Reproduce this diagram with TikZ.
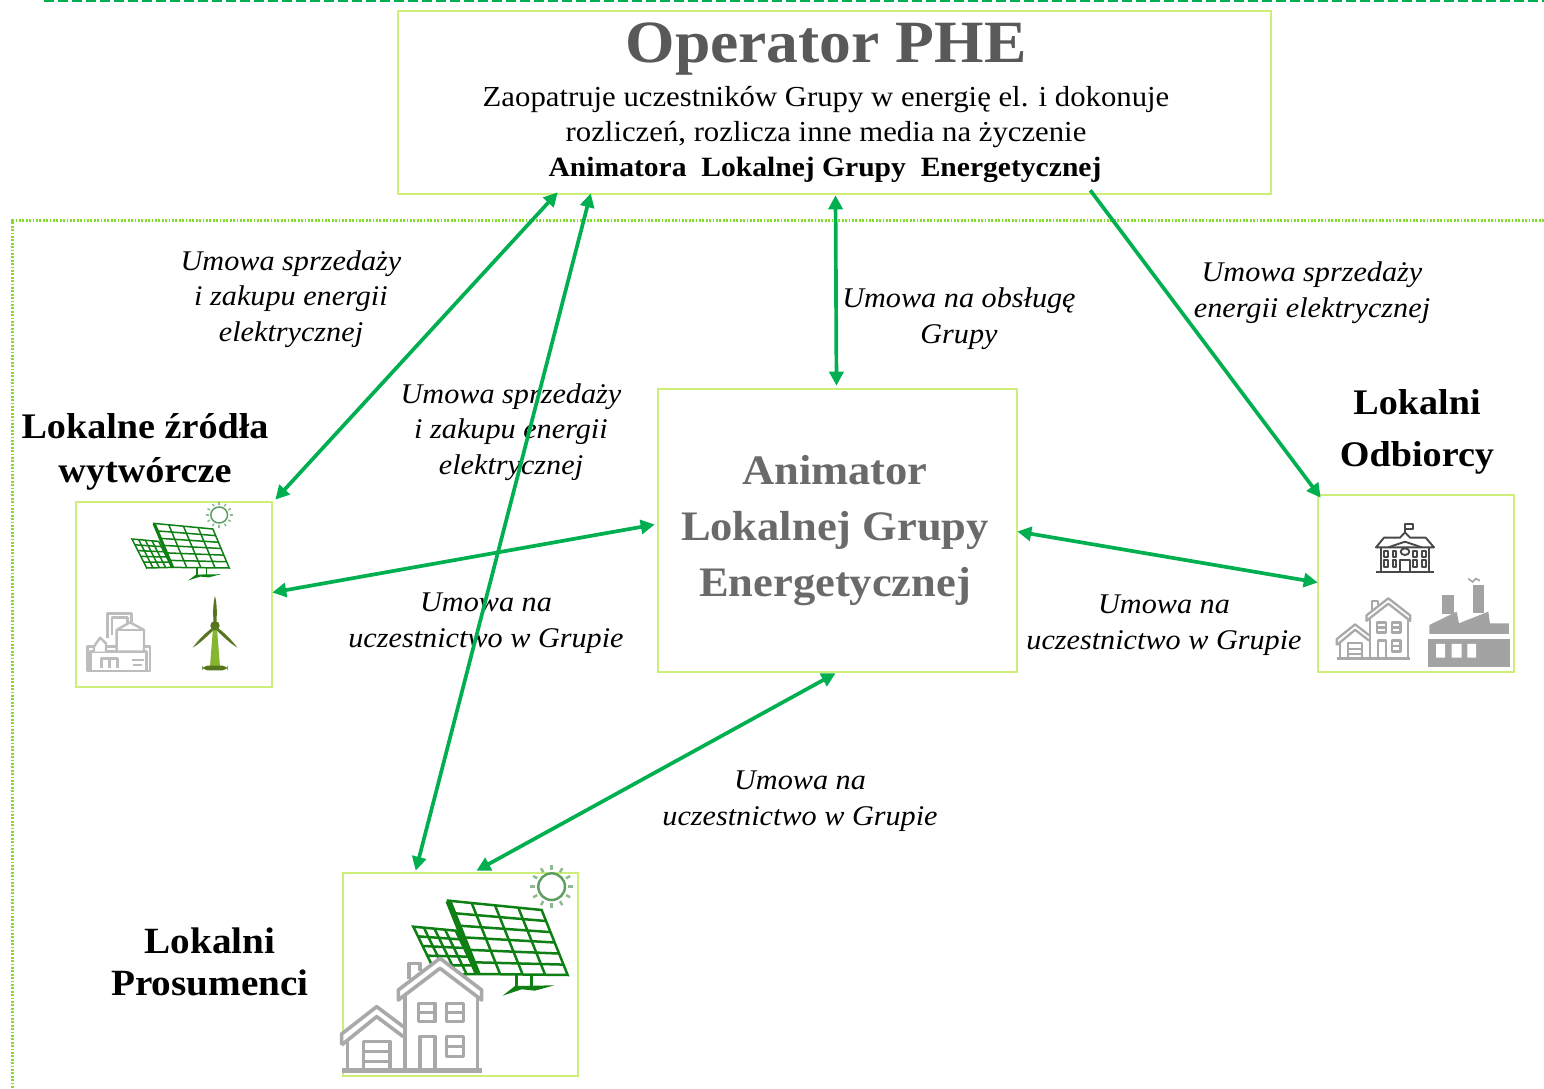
\documentclass[tikz,border=0pt]{standalone}
\usepackage{fontspec}
\setmainfont[FakeStretch=1.06]{Liberation Serif}
\usetikzlibrary{arrows.meta,calc}
\definecolor{boxc}{HTML}{CDEE78}
\definecolor{arrc}{HTML}{00B050}
\definecolor{dotc}{HTML}{84DC2C}
\definecolor{ttlc}{HTML}{595959}
\definecolor{anic}{HTML}{6A6A6A}
\definecolor{panc}{HTML}{0E7F12}
\definecolor{sunc}{HTML}{5E9E62}
\definecolor{hsec}{HTML}{A9A9A9}
\definecolor{facc}{HTML}{A3A3A3}
\definecolor{schc}{HTML}{484848}
\definecolor{refc}{HTML}{BDBDBD}
\definecolor{bladec}{HTML}{55761F}
\definecolor{towc}{HTML}{86B62F}
\tikzset{
  x=1pt,y=-1pt,
  boxn/.style={draw=boxc,line width=2.6pt,fill=none,inner sep=0pt},
  link/.style={draw=arrc,line width=3.7pt,{Triangle[length=14pt,width=14pt]}-{Triangle[length=14pt,width=14pt]}},
  linkone/.style={draw=arrc,line width=3.7pt,-{Triangle[length=14pt,width=14pt]}},
  lab/.style={align=center,inner sep=0pt,font=\fontsize{28.5}{35.5}\selectfont\itshape},
  head/.style={align=center,inner sep=0pt,font=\fontsize{36}{44}\selectfont\bfseries},
}
% all icons are drawn in the local units of the 3x crops
\newcommand{\panelicon}[2]{% thin, thick
  \coordinate (E) at (235,200); \coordinate (F) at (362,212); \coordinate (G) at (425,342); \coordinate (H) at (305,345);
  \foreach \t in {.25,.5,.75}{\draw[panc,line width=#1] ($(E)!\t!(F)$) -- ($(H)!\t!(G)$);}
  \foreach \t in {.2,.4,.6,.8}{\draw[panc,line width=#1] ($(E)!\t!(H)$) -- ($(F)!\t!(G)$);}
  \draw[panc,line width=#1] (E) -- (F) -- (G) -- (H) -- cycle;
  \coordinate (A) at (340,122); \coordinate (B) at (620,150); \coordinate (C) at (698,345); \coordinate (D) at (428,342);
  \fill[white] (A) -- (B) -- (C) -- (D) -- cycle;
  \foreach \t in {.25,.5,.75}{\draw[panc,line width=#1] ($(A)!\t!(B)$) -- ($(D)!\t!(C)$);}
  \foreach \t in {.17,.34,.5,.67,.84}{\draw[panc,line width=#1] ($(A)!\t!(D)$) -- ($(B)!\t!(C)$);}
  \draw[panc,line width=#1] (A) -- (B) -- (C) -- (D) -- cycle;
  \draw[panc,line width=#2] (A) -- (D);
  \draw[panc,line width=#1] (545,345) -- (545,378) (590,345) -- (590,378);
  \fill[panc] (503,407) -- (540,378) -- (658,376) -- (600,392) -- (560,388) -- cycle;
  \draw[sunc,line width=#1] (650,80) circle [radius=40];
  \foreach \a in {0,30,...,330}{\draw[sunc!70,line width=#1] ($(650,80)+(\a:50)$) -- ($(650,80)+(\a:64)$);}
}
\newcommand{\houseicon}[2]{% line width, ground width
  \fill[white] (190,395) -- (315,295) -- (440,395) -- (440,635) -- (20,635) -- (20,520) -- (125,440) -- (205,500) -- cycle;
  \begin{scope}[hsec,line width=#1,line join=round]
  \draw (222,358) -- (222,310) -- (255,310) -- (255,332);
  \draw (190,420) -- (190,390) -- (315,295) -- (440,390) -- (440,420) -- (315,325) -- cycle;
  \draw (210,405) -- (210,632) (428,410) -- (428,632);
  \draw (20,555) -- (20,522) -- (125,440) -- (205,500) (205,530) -- (125,470) -- (20,555);
  \draw (38,540) -- (38,632);
  \draw (85,632) -- (85,545) -- (165,545) -- (165,632) (85,575) -- (165,575) (85,605) -- (165,605);
  \draw (255,632) -- (255,530) -- (300,530) -- (300,632);
  \draw (250,430) rectangle (300,485) (250,457) -- (300,457);
  \draw (335,430) rectangle (385,485) (335,457) -- (385,457);
  \draw (335,530) rectangle (385,590) (335,560) -- (385,560);
  \draw[line width=#2] (20,632) -- (440,632);
  \end{scope}
}
\begin{document}
\begin{tikzpicture}
\useasboundingbox (0,0) rectangle (1544,1089);
\fill[white] (0,0) rectangle (1544,1089);
% frames
\coordinate (dashL) at (44,1);
\coordinate (dashR) at (1544,1);
\draw[arrc,line width=3pt,dash pattern=on 9.5pt off 4.5pt] (dashL) -- (dashR);
\coordinate (dotR) at (1544,220.5);
\coordinate (dotC) at (12.5,220.5);
\coordinate (dotB) at (12.5,1089);
\draw[dotc,line width=2.2pt,dash pattern=on 1.8pt off 1.6pt] (dotR) -- (dotC) -- (dotB);
% boxes
\node[boxn,minimum width=873pt,minimum height=183pt] (op) at (834.5,102.5) {};
\node[boxn,minimum width=359pt,minimum height=283pt] (anim) at (837.5,530.5) {};
\node[boxn,minimum width=196pt,minimum height=185pt] (src) at (174,594.5) {};
\node[boxn,minimum width=196pt,minimum height=177pt] (odb) at (1416,583.5) {};
\node[boxn,minimum width=235pt,minimum height=203pt] (pros) at (460.5,974.5) {};
% icons: source box
\begin{scope}[shift={(82.65,499)},xscale=.21,yscale=.2]\panelicon{1.5pt}{3.2pt}\end{scope}
\begin{scope}[shift={(70,495)},scale=.3333]
  \begin{scope}[refc,line width=2.4pt,line join=round]
  \draw (52,455) rectangle (240,528);
  \draw (62,528) -- (62,470) -- (230,470) -- (230,528);
  \draw[fill=white] (72,470) -- (72,455) -- (90,428) -- (108,445) -- (108,470);
  \draw[fill=white] (112,430) -- (112,355) -- (185,355) -- (185,382) (126,420) -- (126,368) -- (172,368) -- (172,388);
  \draw[fill=white] (140,470) -- (140,405) -- (180,382) -- (222,405) -- (222,470) -- cycle;
  \draw (140,405) -- (222,405);
  \draw (95,520) -- (95,490) -- (142,490) -- (142,520) (118,490) -- (118,520);
  \draw (185,495) -- (222,495) (190,510) -- (215,510);
  \end{scope}
  \fill[towc] (429,400) -- (441,400) -- (450,514) -- (420,514) -- cycle;
  \fill[bladec,rounded corners=5pt] (397,512) rectangle (473,526);
  \fill[bladec] (435,303) .. controls (442,330) and (441,360) .. (439,385) -- (431,385) .. controls (429,360) and (428,330) .. (435,303) -- cycle;
  \fill[bladec] (368,458) .. controls (385,435) and (405,415) .. (425,400) -- (430,406) .. controls (410,425) and (390,445) .. (368,458) -- cycle;
  \fill[bladec] (502,458) .. controls (485,435) and (465,415) .. (445,400) -- (440,406) .. controls (460,425) and (480,445) .. (502,458) -- cycle;
  \fill[bladec] (435,392) circle [radius=14];
\end{scope}
% icons: consumer box
\begin{scope}[shift={(1310,490)},scale=.3333]
  \begin{scope}[schc,line width=1.9pt,line join=round]
  \draw (198,247) -- (372,247);
  \draw (212,175) -- (212,247) (358,175) -- (358,247);
  \draw (198,172) -- (222,143) -- (270,143) -- (285,127) -- (300,143) -- (347,143) -- (372,172) -- cycle;
  \draw (285,127) -- (285,102) -- (310,102) -- (310,118) -- (285,118);
  \draw (235,172) -- (285,155) -- (335,172);
  \draw (285,185) ellipse [x radius=13,y radius=10];
  \draw (270,247) -- (270,210) -- (300,210) -- (300,247);
  \foreach \wx in {222,248,310,337}{\draw (\wx,183) rectangle ++(11,17) (\wx,210) rectangle ++(11,20);}
  \end{scope}
  \fill[facc] (397,315) rectangle (433,372);
  \fill[facc] (490,285) rectangle (523,368);
  \fill[facc] (358,405) -- (440,365) -- (447,400) -- (535,365) -- (540,400) -- (597,400) -- (597,432) -- (358,432) -- cycle;
  \fill[facc] (355,447) rectangle (600,530);
  \fill[white] (378,462) rectangle (405,503) (425,462) rectangle (455,503) (472,462) rectangle (498,503);
  \draw[facc,line width=1.6pt] (475,266) -- (488,276) -- (497,266) -- (510,272);
\end{scope}
\begin{scope}[shift={(1333.2,545.2)},xscale=.175,yscale=.18]\houseicon{2.3pt}{3pt}\end{scope}
% icons: prosumer box
\begin{scope}[shift={(335,860)},scale=.3333]\panelicon{2.5pt}{6pt}\end{scope}
\begin{scope}[shift={(335,860)},scale=.3333]\houseicon{3.6pt}{4.5pt}\end{scope}
% texts
\node[inner sep=0pt,font=\fontsize{60}{60}\selectfont\bfseries,text=ttlc] (t1) at (826,49) {Operator PHE};
\node[inner sep=0pt,align=center,font=\fontsize{29}{35}\selectfont] (t2) at (826,117) {Zaopatruje uczestników Grupy w energię el. i dokonuje\\rozliczeń, rozlicza inne media na życzenie};
\node[inner sep=0pt,font=\fontsize{27.9}{35}\selectfont\bfseries] (t3) at (825,170) {Animatora\ \ Lokalnej Grupy\ \ Energetycznej};
\node[inner sep=0pt,align=center,text=anic,font=\fontsize{42}{56}\selectfont\bfseries] (t4) at (835,531) {Animator\\Lokalnej Grupy\\Energetycznej};
\node[head] (h1) at (145,452) {Lokalne źródła\\wytwórcze};
\node[head,font=\fontsize{36}{52}\selectfont\bfseries] (h2) at (1417,432) {Lokalni\\Odbiorcy};
\node[head,font=\fontsize{37}{42}\selectfont\bfseries] (h3) at (210,962) {Lokalni\\Prosumenci};
\node[lab] (l1) at (291,299) {Umowa sprzedaży\\i zakupu energii\\elektrycznej};
\node[lab] (l2) at (511,432) {Umowa sprzedaży\\i zakupu energii\\elektrycznej};
\node[lab] (l3) at (959,318.5) {Umowa na obsługę\\Grupy};
\node[lab] (l4) at (1312,292.5) {Umowa sprzedaży\\energii elektrycznej};
\node[lab] (l5) at (486,623) {Umowa na\\uczestnictwo w Grupie};
\node[lab] (l6) at (1164,625) {Umowa na\\uczestnictwo w Grupie};
\node[lab] (l7) at (800,801) {Umowa na\\uczestnictwo w Grupie};
% connectors
\draw[link] ($(op.south west)+(161,-3)$) -- ($(src.north east)+(2,-1)$);
\draw[link] ($(op.south west)+(194,-2)$) -- ($(pros.north west)+(74,-1)$);
\draw[link] ($(op.south)+(1,0)$) -- ($(anim.north)+(-1,-2)$);
\draw[linkone] ($(op.south east)+(-182,-5)$) -- ($(odb.north west)+(4,4)$);
\draw[link] ($(src.east)+(-1,-2)$) -- ($(anim.west)+(-2,-6)$);
\draw[link] ($(anim.east)+(-1,1)$) -- ($(odb.west)+(1,-1)$);
\draw[link] ($(anim.south)+(-2,0)$) -- ($(pros.north)+(16,-1)$);
\end{tikzpicture}
\end{document}
